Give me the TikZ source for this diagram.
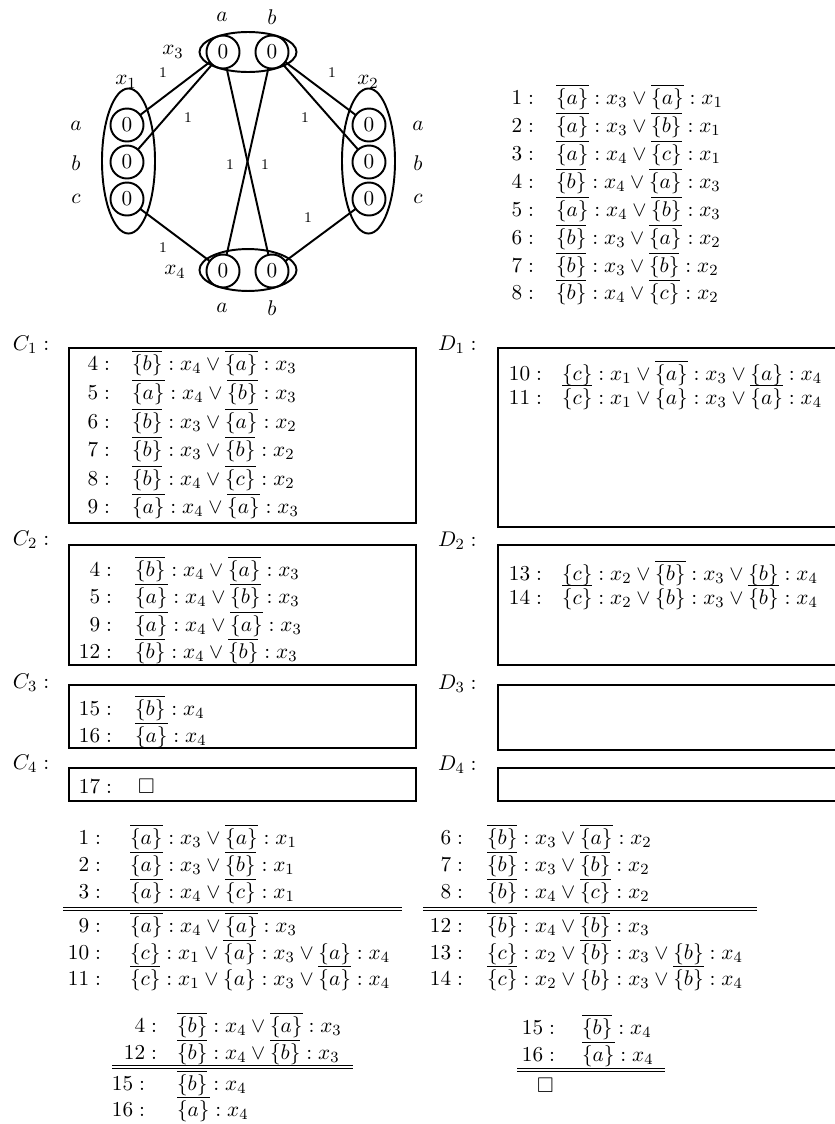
\documentclass[tikz,border=0pt]{standalone}
\usepackage{amssymb}
\usetikzlibrary{shapes.geometric}
\newcommand\nset[1]{\overline{\{#1\}}}
\newcommand\pset[1]{\{#1\}}
\begin{document}
\begin{tikzpicture}[x=0.515pt,y=-0.515pt,
  every node/.style={inner sep=0pt,outer sep=0pt},
  font=\fontsize{10.95}{13.6}\selectfont,
  val/.style={circle,draw,line width=1pt,minimum size=17pt},
  grp/.style={ellipse,draw,line width=1pt},
  edgeline/.style={line width=1pt},
  wt/.style={font=\fontsize{7.6}{9}\selectfont},
  num/.style={anchor=base east},
  cl/.style={anchor=base west},
  lbl/.style={anchor=base west},
  frame/.style={line width=0.6pt},
  rule/.style={line width=0.5pt}]
\useasboundingbox (0,0) rectangle (835,1124);

% ---------------- graph ----------------
\node[grp,minimum width=50pt,minimum height=20.6pt] (X3) at (248,52) {};
\node[grp,minimum width=50pt,minimum height=21.6pt] (X4) at (248,270) {};
\node[grp,minimum width=27.3pt,minimum height=74.7pt] (X1) at (128.5,161) {};
\node[grp,minimum width=27.3pt,minimum height=74.7pt] (X2) at (368.5,161) {};

\node[val] (x3a) at (223,52) {$0$};
\node[val] (x3b) at (272,52) {$0$};
\node[val] (x4a) at (223,271) {$0$};
\node[val] (x4b) at (272,271) {$0$};
\node[val] (x1a) at (127,125) {$0$};
\node[val] (x1b) at (127,162) {$0$};
\node[val] (x1c) at (127,199) {$0$};
\node[val] (x2a) at (369,125) {$0$};
\node[val] (x2b) at (369,162) {$0$};
\node[val] (x2c) at (369,199) {$0$};

\node (la3) at (222,17) {$a$};
\node (lb3) at (272,17) {$b$};
\node (la4) at (222,308) {$a$};
\node (lb4) at (272,308) {$b$};
\node (lx3) at (173,52) {$x_3$};
\node (lx4) at (175,272) {$x_4$};
\node (lx1) at (126,82) {$x_1$};
\node (lx2) at (368,82) {$x_2$};
\node (la1) at (76,126) {$a$};
\node (lb1) at (76,163) {$b$};
\node (lc1) at (76,199) {$c$};
\node (la2) at (418,126) {$a$};
\node (lb2) at (418,163) {$b$};
\node (lc2) at (418,199) {$c$};

\draw[edgeline] (x3a) -- (x1a);
\draw[edgeline] (x3a) -- (x1b);
\draw[edgeline] (x3b) -- (x2a);
\draw[edgeline] (x3b) -- (x2b);
\draw[edgeline] (x3a) -- (x4b);
\draw[edgeline] (x3b) -- (x4a);
\draw[edgeline] (x1c) -- (x4a);
\draw[edgeline] (x2c) -- (x4b);

\node[wt] (w1) at (163,73) {1};
\node[wt] (w2) at (188,118) {1};
\node[wt] (w3) at (230,165) {1};
\node[wt] (w4) at (265,165) {1};
\node[wt] (w5) at (332,73) {1};
\node[wt] (w6) at (305,118) {1};
\node[wt] (w7) at (308,218) {1};
\node[wt] (w8) at (163,248) {1};

% ---------------- clause list ----------------
\node[num] (n1) at (534,104) {$1:$};
\node[cl] (f1) at (556,104) {$\nset{a}:x_3\vee\nset{a}:x_1$};
\node[num] (n2) at (534,132) {$2:$};
\node[cl] (f2) at (556,132) {$\nset{a}:x_3\vee\nset{b}:x_1$};
\node[num] (n3) at (534,160) {$3:$};
\node[cl] (f3) at (556,160) {$\nset{a}:x_4\vee\nset{c}:x_1$};
\node[num] (n4) at (534,188) {$4:$};
\node[cl] (f4) at (556,188) {$\nset{b}:x_4\vee\nset{a}:x_3$};
\node[num] (n5) at (534,216) {$5:$};
\node[cl] (f5) at (556,216) {$\nset{a}:x_4\vee\nset{b}:x_3$};
\node[num] (n6) at (534,244) {$6:$};
\node[cl] (f6) at (556,244) {$\nset{b}:x_3\vee\nset{a}:x_2$};
\node[num] (n7) at (534,272) {$7:$};
\node[cl] (f7) at (556,272) {$\nset{b}:x_3\vee\nset{b}:x_2$};
\node[num] (n8) at (534,299) {$8:$};
\node[cl] (f8) at (556,299) {$\nset{b}:x_4\vee\nset{c}:x_2$};

% ---------------- boxes ----------------
\draw[frame] (69,348) rectangle (416,523);
\draw[frame] (498,348) rectangle (845,527);
\draw[frame] (69,545) rectangle (416,665);
\draw[frame] (498,545) rectangle (845,665);
\draw[frame] (69,685) rectangle (416,748);
\draw[frame] (498,685) rectangle (845,750);
\draw[frame] (69,768) rectangle (416,801);
\draw[frame] (498,768) rectangle (845,801);

\node[lbl] (C1) at (13,350) {$C_1:$};
\node[lbl] (D1) at (438,350) {$D_1:$};
\node[lbl] (C2) at (13,545) {$C_2:$};
\node[lbl] (D2) at (438,546) {$D_2:$};
\node[lbl] (C3) at (13,688) {$C_3:$};
\node[lbl] (D3) at (438,689) {$D_3:$};
\node[lbl] (C4) at (13,769) {$C_4:$};
\node[lbl] (D4) at (438,770) {$D_4:$};

% C1
\node[num] (c1n4) at (110,370) {$4:$};
\node[cl] (c1f4) at (132,370) {$\nset{b}:x_4\vee\nset{a}:x_3$};
\node[num] (c1n5) at (110,399) {$5:$};
\node[cl] (c1f5) at (132,399) {$\nset{a}:x_4\vee\nset{b}:x_3$};
\node[num] (c1n6) at (110,428) {$6:$};
\node[cl] (c1f6) at (132,428) {$\nset{b}:x_3\vee\nset{a}:x_2$};
\node[num] (c1n7) at (110,456) {$7:$};
\node[cl] (c1f7) at (132,456) {$\nset{b}:x_3\vee\nset{b}:x_2$};
\node[num] (c1n8) at (110,485) {$8:$};
\node[cl] (c1f8) at (132,485) {$\nset{b}:x_4\vee\nset{c}:x_2$};
\node[num] (c1n9) at (110,513) {$9:$};
\node[cl] (c1f9) at (132,513) {$\nset{a}:x_4\vee\nset{a}:x_3$};

% D1
\node[num] (d1n10) at (542,380) {$10:$};
\node[cl] (d1f10) at (562,380) {$\pset{c}:x_1\vee\nset{a}:x_3\vee\pset{a}:x_4$};
\node[num] (d1n11) at (542,404) {$11:$};
\node[cl] (d1f11) at (562,404) {$\nset{c}:x_1\vee\pset{a}:x_3\vee\nset{a}:x_4$};

% C2
\node[num] (c2n4) at (112,576) {$4:$};
\node[cl] (c2f4) at (135,576) {$\nset{b}:x_4\vee\nset{a}:x_3$};
\node[num] (c2n5) at (112,603) {$5:$};
\node[cl] (c2f5) at (135,603) {$\nset{a}:x_4\vee\nset{b}:x_3$};
\node[num] (c2n9) at (112,631) {$9:$};
\node[cl] (c2f9) at (135,631) {$\nset{a}:x_4\vee\nset{a}:x_3$};
\node[num] (c2n12) at (112,658) {$12:$};
\node[cl] (c2f12) at (135,658) {$\nset{b}:x_4\vee\nset{b}:x_3$};

% D2
\node[num] (d2n13) at (542,580) {$13:$};
\node[cl] (d2f13) at (562,580) {$\pset{c}:x_2\vee\nset{b}:x_3\vee\pset{b}:x_4$};
\node[num] (d2n14) at (542,604) {$14:$};
\node[cl] (d2f14) at (562,604) {$\nset{c}:x_2\vee\pset{b}:x_3\vee\nset{b}:x_4$};

% C3
\node[num] (c3n15) at (112,715) {$15:$};
\node[cl] (c3f15) at (135,715) {$\nset{b}:x_4$};
\node[num] (c3n16) at (112,742) {$16:$};
\node[cl] (c3f16) at (135,742) {$\nset{a}:x_4$};

% C4
\node[num] (c4n17) at (112,793) {$17:$};
\node[cl] (c4f17) at (138,793) {$\square$};

% ---------------- derivations ----------------
% left block 1
\node[num] (l1) at (101,844) {$1:$};
\node[cl] (lf1) at (130,844) {$\nset{a}:x_3\vee\nset{a}:x_1$};
\node[num] (l2) at (101,871) {$2:$};
\node[cl] (lf2) at (130,871) {$\nset{a}:x_3\vee\nset{b}:x_1$};
\node[num] (l3) at (101,898) {$3:$};
\node[cl] (lf3) at (130,898) {$\nset{a}:x_4\vee\nset{c}:x_1$};
\coordinate (lr1a) at (63,907); \coordinate (lr1b) at (402,907);
\coordinate (lr2a) at (63,910); \coordinate (lr2b) at (402,910);
\draw[rule] (lr1a) -- (lr1b);
\draw[rule] (lr2a) -- (lr2b);
\node[num] (l9) at (101,932) {$9:$};
\node[cl] (lf9) at (130,932) {$\nset{a}:x_4\vee\nset{a}:x_3$};
\node[num] (l10) at (101,959) {$10:$};
\node[cl] (lf10) at (130,959) {$\pset{c}:x_1\vee\nset{a}:x_3\vee\pset{a}:x_4$};
\node[num] (l11) at (101,985) {$11:$};
\node[cl] (lf11) at (130,985) {$\nset{c}:x_1\vee\pset{a}:x_3\vee\nset{a}:x_4$};

% right block 1
\node[num] (r6) at (463,844) {$6:$};
\node[cl] (rf6) at (487,844) {$\nset{b}:x_3\vee\nset{a}:x_2$};
\node[num] (r7) at (463,871) {$7:$};
\node[cl] (rf7) at (487,871) {$\nset{b}:x_3\vee\nset{b}:x_2$};
\node[num] (r8) at (463,898) {$8:$};
\node[cl] (rf8) at (487,898) {$\nset{b}:x_4\vee\nset{c}:x_2$};
\coordinate (rr1a) at (423,907); \coordinate (rr1b) at (757,907);
\coordinate (rr2a) at (423,910); \coordinate (rr2b) at (757,910);
\draw[rule] (rr1a) -- (rr1b);
\draw[rule] (rr2a) -- (rr2b);
\node[num] (r12) at (463,932) {$12:$};
\node[cl] (rf12) at (487,932) {$\nset{b}:x_4\vee\nset{b}:x_3$};
\node[num] (r13) at (463,959) {$13:$};
\node[cl] (rf13) at (487,959) {$\pset{c}:x_2\vee\nset{b}:x_3\vee\pset{b}:x_4$};
\node[num] (r14) at (463,985) {$14:$};
\node[cl] (rf14) at (487,985) {$\nset{c}:x_2\vee\pset{b}:x_3\vee\nset{b}:x_4$};

% left block 2
\node[num] (m4) at (157,1032) {$4:$};
\node[cl] (mf4) at (177,1032) {$\nset{b}:x_4\vee\nset{a}:x_3$};
\node[num] (m12) at (157,1059) {$12:$};
\node[cl] (mf12) at (177,1059) {$\nset{b}:x_4\vee\nset{b}:x_3$};
\coordinate (mr1a) at (112,1065); \coordinate (mr1b) at (353,1065);
\coordinate (mr2a) at (112,1068); \coordinate (mr2b) at (353,1068);
\draw[rule] (mr1a) -- (mr1b);
\draw[rule] (mr2a) -- (mr2b);
\node[num] (m15) at (145,1090) {$15:$};
\node[cl] (mf15) at (177,1090) {$\nset{b}:x_4$};
\node[num] (m16) at (145,1116) {$16:$};
\node[cl] (mf16) at (177,1116) {$\nset{a}:x_4$};

% right block 2
\node[num] (s15) at (555,1034) {$15:$};
\node[cl] (sf15) at (582,1034) {$\nset{b}:x_4$};
\node[num] (s16) at (555,1061) {$16:$};
\node[cl] (sf16) at (582,1061) {$\nset{a}:x_4$};
\coordinate (sr1a) at (517,1068); \coordinate (sr1b) at (665,1068);
\coordinate (sr2a) at (517,1071); \coordinate (sr2b) at (665,1071);
\draw[rule] (sr1a) -- (sr1b);
\draw[rule] (sr2a) -- (sr2b);
\node[cl] (sbox) at (537,1092) {$\square$};
\end{tikzpicture}
\end{document}
